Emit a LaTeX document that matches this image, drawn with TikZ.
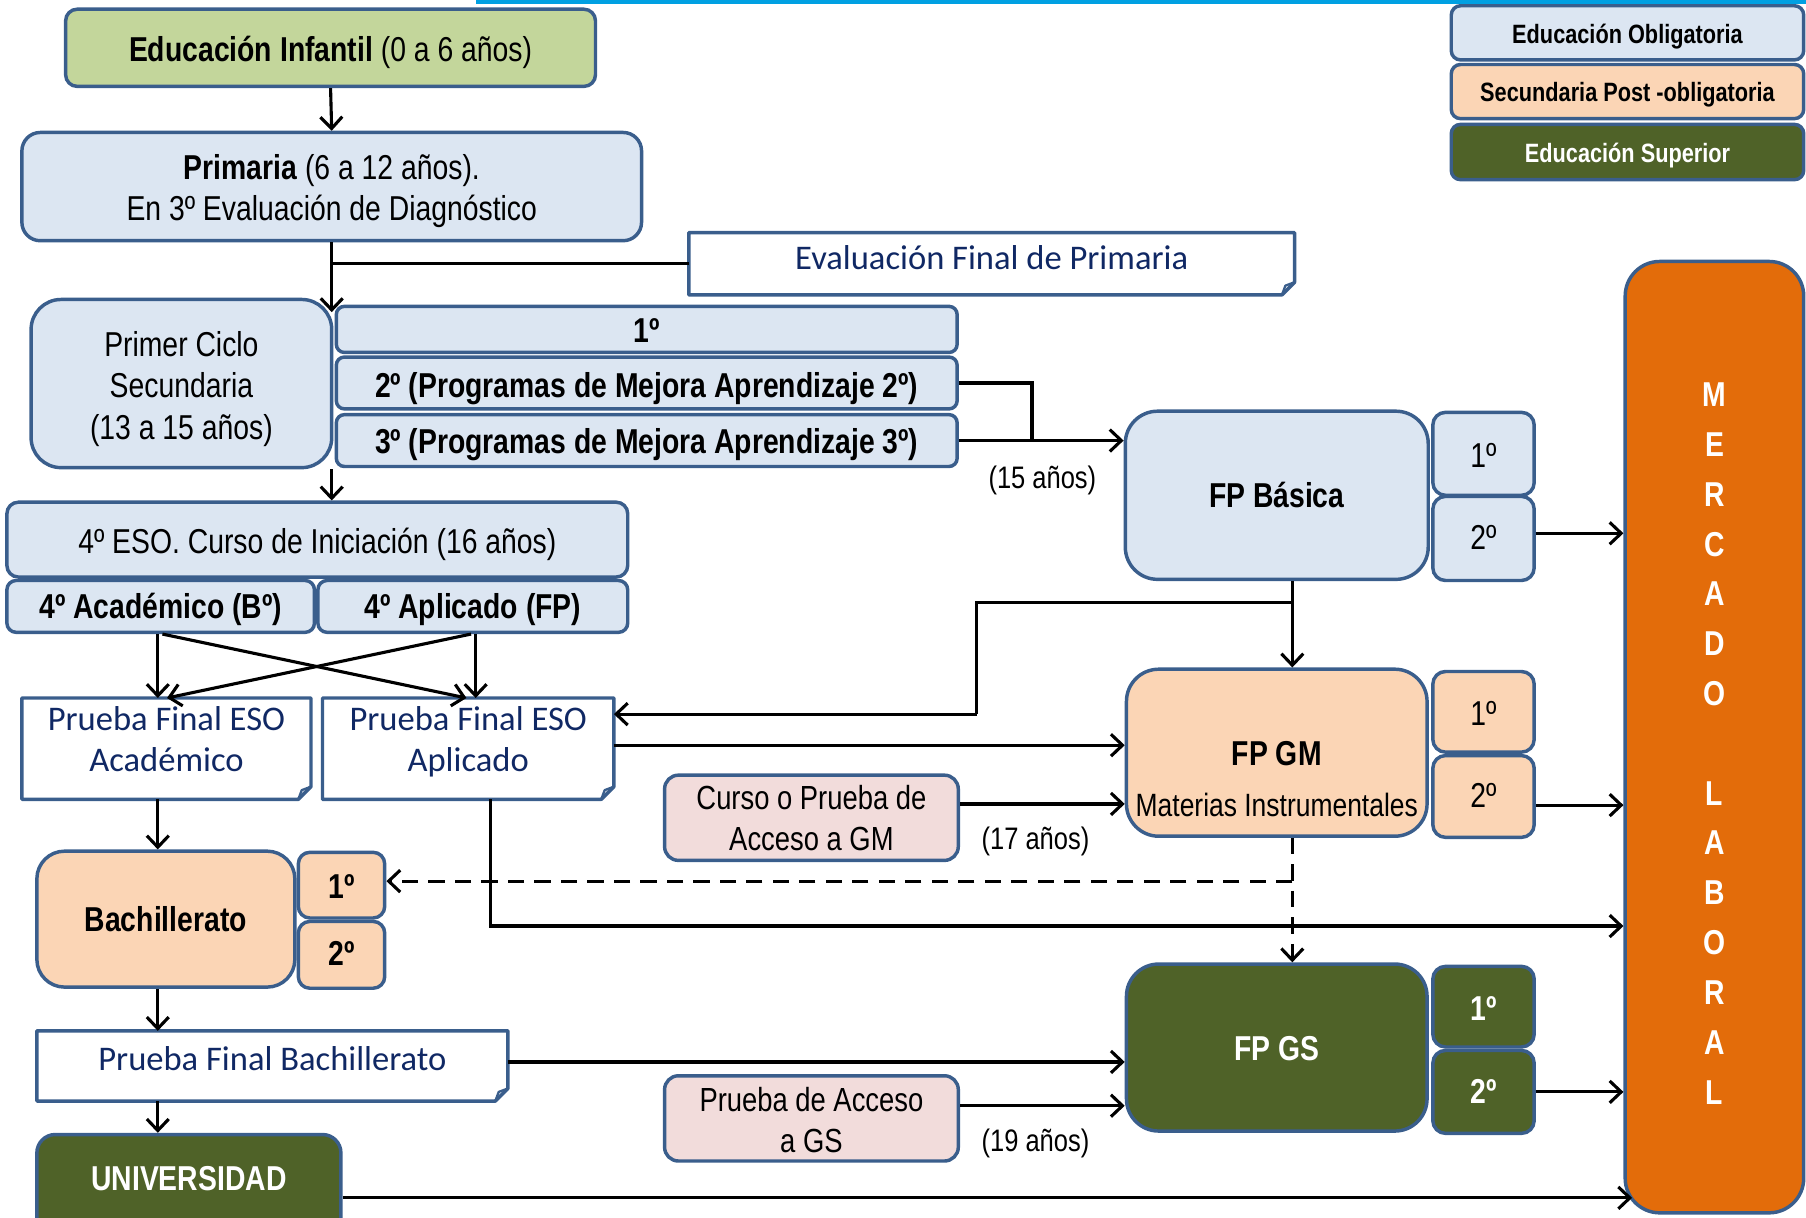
\documentclass[tikz,border=0pt]{standalone}
\usepackage{fontspec}
\setmainfont{Liberation Sans}[FakeStretch=0.82]
\newfontfamily\calfont{Carlito}
\usetikzlibrary{arrows.meta}
\definecolor{bord}{RGB}{58,94,140}
\definecolor{lblue}{RGB}{220,230,242}
\definecolor{lgreen}{RGB}{195,214,155}
\definecolor{peach}{RGB}{251,213,181}
\definecolor{olive}{RGB}{79,98,40}
\definecolor{pinkbox}{RGB}{242,220,219}
\definecolor{orng}{RGB}{227,108,10}
\definecolor{navy}{RGB}{16,40,100}
\definecolor{topbar}{RGB}{0,160,226}
\newcommand\fs[2]{\fontsize{#1}{#2}\selectfont}
\newcommand\noteoutline[1]{%
  \draw[bord,line width=3pt,line join=round] (#1.north west) -- (#1.north east) -- ([yshift=11pt]#1.south east) -- ([xshift=-11pt]#1.south east) -- (#1.south west) -- cycle;
  \draw[bord,line width=2pt,line join=round] ([xshift=-11pt]#1.south east) -- ([xshift=-8pt,yshift=8pt]#1.south east) -- ([yshift=11pt]#1.south east);}
\begin{document}
\begin{tikzpicture}[x=1pt,y=-1pt,
  tb/.style 2 args={text height=#1pt, text depth=#2pt},
  bx/.style={draw=bord, line width=3pt, rounded corners=#1, inner sep=0pt, align=center, font=\fs{30}{36}},
  bx/.default=14pt,
  note/.style={inner sep=0pt, outer sep=0pt, align=center, text=navy, font=\calfont\fs{30}{35.6}},
  lg/.style={bx=8pt, minimum width=306pt, font=\bfseries\fs{23}{28}},
  sm/.style={bx=11pt, minimum width=88pt},
  lbl/.style={inner sep=0pt, anchor=base, font=\fs{27}{32}},
  conn/.style={line width=2.7pt, line join=miter},
  arr/.style={conn, -{Straight Barb[length=10pt,width=19pt]}},
  darr/.style={arr, dash pattern=on 14pt off 9pt}]
\useasboundingbox (0,0) rectangle (1568,1057);
\fill[topbar] (413,0) rectangle (1568,3.5);

% legend
\node[lg, fill=lblue, tb={32.6}{14.4}] (lg1) at (1413,28.5) {Educación Obligatoria};
\node[lg, fill=peach, tb={32.3}{14.7}] (lg2) at (1413,79.5) {Secundaria Post -obligatoria};
\node[lg, fill=olive, text=white, tb={33.2}{14.8}] (lg3) at (1413,132) {Educación Superior};

% left column
\node[bx=10pt, fill=lgreen, minimum width=460pt, tb={45.5}{21.5}] (inf) at (287,41.5) {\textbf{Educación Infantil} (0 a 6 años)};
\node[bx=16pt, fill=lblue, minimum width=538pt, tb={76.6}{17.4}] (prim) at (288,162) {\textbf{Primaria} (6 a 12 años).\\En 3º Evaluación de Diagnóstico};
\node[note, minimum width=526pt, tb={32.4}{21.6}] (evalp) at (861,229) {Evaluación Final de Primaria};
\noteoutline{evalp}

\node[bx=26pt, fill=lblue, minimum width=261pt, tb={121.5}{24.5}] (pcs) at (157.5,333) {Primer Ciclo\\Secundaria\\(13 a 15 años)};
\node[bx=7pt, fill=lblue, minimum width=539pt, tb={31}{9}, font=\bfseries\fs{30}{36}] (c1) at (561.5,286) {1º};
\node[bx=7pt, fill=lblue, minimum width=539pt, tb={35}{10}, font=\bfseries\fs{30}{36}] (c2) at (561.5,332.5) {2º (Programas de Mejora Aprendizaje 2º)};
\node[bx=7pt, fill=lblue, minimum width=539pt, tb={33.5}{11.5}, font=\bfseries\fs{30}{36}] (c3) at (561.5,382.5) {3º (Programas de Mejora Aprendizaje 3º)};

\node[bx=10pt, fill=lblue, minimum width=539pt, tb={44.4}{20.6}] (eso4) at (275.5,468.5) {4º ESO. Curso de Iniciación (16 años)};
\node[bx=8pt, fill=lblue, minimum width=267pt, tb={32.8}{12.2}, font=\bfseries\fs{30}{36}] (acad) at (139.5,526.5) {4º Académico (Bº)};
\node[bx=8pt, fill=lblue, minimum width=269pt, tb={32.8}{12.2}, font=\bfseries\fs{30}{36}] (apli) at (410.5,526.5) {4º Aplicado (FP)};

\node[note, minimum width=251pt, tb={64}{24}] (pfa) at (144.5,650) {Prueba Final ESO\\Académico};
\noteoutline{pfa}
\node[note, minimum width=253pt, tb={64}{24}] (pfp) at (406.5,650) {Prueba Final ESO\\Aplicado};
\noteoutline{pfp}

\node[bx=24pt, fill=peach, minimum width=224pt, tb={69.9}{48.1}, font=\bfseries\fs{30}{36}] (bach) at (144,798) {Bachillerato};
\node[bx=10pt, fill=peach, minimum width=75pt, tb={40.5}{16.5}, font=\bfseries\fs{30}{36}] (b1) at (296.5,768.5) {1º};
\node[bx=10pt, fill=peach, minimum width=75pt, tb={38.4}{19.6}, font=\bfseries\fs{30}{36}] (b2) at (296.5,829) {2º};

\node[note, minimum width=409pt, tb={34.6}{26.4}] (pfb) at (236.5,925.5) {Prueba Final Bachillerato};
\noteoutline{pfb}

\node[bx=16pt, fill=olive, text=white, minimum width=264pt, tb={48.2}{41.8}, font=\bfseries\fs{30}{36}] (univ) at (164,1030) {UNIVERSIDAD};

% FP column
\node[bx=28pt, fill=lblue, minimum width=263pt, tb={83.5}{62.5}, font=\bfseries\fs{30}{36}] (fpb) at (1108.5,430) {FP Básica};
\node[sm, fill=lblue, tb={47.7}{24.3}] (fpb1) at (1288,394) {1º};
\node[sm, fill=lblue, tb={46.5}{26.5}] (fpb2) at (1288,467.5) {2º};

\node[bx=28pt, fill=peach, minimum width=261pt, tb={127.9}{17.1}, font=\fs{30}{44.4}] (fpgm) at (1108.5,653.5) {\textbf{FP GM}\\\fs{28}{44.4}Materias Instrumentales};
\node[sm, fill=peach, tb={47.3}{22.7}] (gm1) at (1288,618) {1º};
\node[sm, fill=peach, tb={45.4}{25.6}] (gm2) at (1288,691.5) {2º};
\node[bx=12pt, fill=pinkbox, minimum width=255pt, tb={65}{9}, font=\fs{29}{35}] (curgm) at (704.5,710) {Curso o Prueba de\\Acceso a GM};

\node[bx=28pt, fill=olive, text=white, minimum width=261pt, tb={83.8}{61.2}, font=\bfseries\fs{30}{36}] (fpgs) at (1108.5,909.5) {FP GS};
\node[sm, fill=olive, text=white, tb={47}{23}, font=\bfseries\fs{30}{36}] (gs1) at (1288,874) {1º};
\node[sm, fill=olive, text=white, tb={45.7}{26.3}, font=\bfseries\fs{30}{36}] (gs2) at (1288,948) {2º};
\node[bx=12pt, fill=pinkbox, minimum width=255pt, tb={67}{7}, font=\fs{29}{35.7}] (pags) at (704.5,971) {Prueba de Acceso\\a GS};

\node[bx=30pt, fill=orng, text=white, minimum width=155pt, tb={731.5}{94.5}, font=\bfseries\fs{30}{43.25}] (merc) at (1488.5,640) {M\\E\\R\\C\\A\\D\\O\\\mbox{}\\L\\A\\B\\O\\R\\A\\L};

\node[lbl] (a15) at (905,424) {(15 años)};
\node[lbl] (a17) at (899,737.5) {(17 años)};
\node[lbl] (a19) at (899,1000) {(19 años)};

% helper coordinates
\coordinate (xa) at (137,0);
\coordinate (xc) at (1122,0);
\coordinate (pcsin) at (288,271);
\coordinate (j1) at (896,0);
\coordinate (lp1) at (1122,523);
\coordinate (lp2) at (848,523);
\coordinate (lp3) at (848,620);
\coordinate (pd) at (426,804);
\coordinate (dj) at (1122,765);
\coordinate (ue) at (1417,1040);

% connectors
\draw[arr] (inf.south) -- (prim.north);
\draw[arr] (prim.south) -- (pcsin);
\draw[conn] (prim.south |- evalp.west) -- (evalp.west);
\draw[arr] (prim.south |- pcs.south) -- (prim.south |- eso4.north);
\draw[conn] (c2.east) -- (c2.east -| j1) -- (c3.east -| j1);
\draw[arr] (c3.east) -- (c3.east -| fpb.west);

\draw[arr] (acad.south -| xa) -- (pfa.north -| xa);
\draw[arr] ([xshift=1.5pt]acad.south) -- ([xshift=-1.5pt]pfp.north);
\draw[arr] ([xshift=2.5pt]apli.south) -- ([xshift=6.5pt]pfp.north);
\draw[arr] ([xshift=-1.5pt]apli.south) -- ([xshift=0.5pt]pfa.north);

\draw[arr] (fpb.south -| xc) -- (fpgm.north -| xc);
\draw[conn] (lp1) -- (lp2) -- (lp3);
\draw[arr] (lp3) -- (lp3 -| pfp.east);
\draw[arr] ([yshift=3pt]pfp.east) -- ([yshift=3pt]pfp.east -| fpgm.west);
\draw[arr] ([yshift=12pt]curgm.east) -- ([yshift=12pt]curgm.east -| fpgm.west);
\draw[arr] ([yshift=4.5pt]fpb2.east) -- ([yshift=4.5pt]fpb2.east -| merc.west);
\draw[arr] ([yshift=-7.5pt]gm2.east) -- ([yshift=-7.5pt]gm2.east -| merc.west);
\draw[arr] (gs2.east) -- (gs2.east -| merc.west);
\draw[arr] (pfp.south -| pd) -- (pd) -- (pd -| merc.west);

\draw[darr] (fpgm.south -| xc) -- (fpgs.north -| xc);
\draw[darr] (dj) -- (dj -| b1.east);

\draw[arr] (pfa.south -| xa) -- (bach.north -| xa);
\draw[arr] (bach.south -| xa) -- (pfb.north -| xa);
\draw[arr] (pfb.south -| xa) -- (univ.north -| xa);
\draw[arr] ([yshift=3.5pt]pfb.east) -- ([yshift=3.5pt]pfb.east -| fpgs.west);
\draw[arr] ([yshift=11pt]pags.east) -- ([yshift=11pt]pags.east -| fpgs.west);
\draw[arr] (univ.east |- ue) -- (ue);
\end{tikzpicture}
\end{document}
